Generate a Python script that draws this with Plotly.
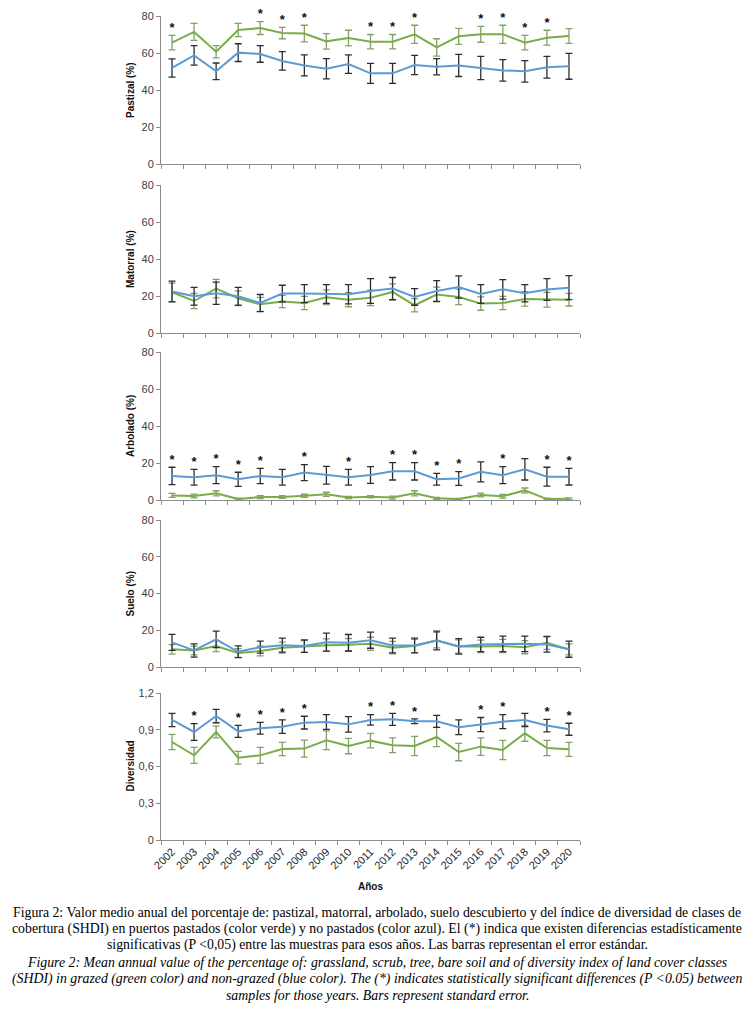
import plotly.graph_objects as go

years = [str(y) for y in range(2002, 2021)]

# Pastizal (%)
past_green = [65.6, 71.4, 60.7, 72.4, 73.5, 70.8, 70.5, 66.3, 68.1, 66.1, 66.1, 70.1, 63.0, 69.0, 70.1, 70.1, 65.6, 68.3, 69.2]
past_green_se = [3.9, 4.6, 3.3, 3.6, 3.5, 3.1, 4.5, 4.2, 4.2, 3.9, 3.9, 4.9, 4.7, 4.3, 4.3, 4.9, 3.9, 4.0, 4.0]
past_blue = [51.9, 58.7, 50.1, 60.2, 59.5, 55.7, 53.3, 51.5, 54.0, 49.0, 49.0, 53.5, 52.6, 53.3, 51.9, 50.6, 50.1, 52.3, 52.8]
past_blue_se = [4.9, 5.3, 4.5, 4.8, 4.5, 5.0, 5.7, 5.5, 5.0, 5.4, 5.4, 5.2, 4.4, 6.0, 6.3, 5.8, 5.8, 5.9, 7.0]
past_star = ["2002", "2006", "2007", "2008", "2011", "2012", "2013", "2016", "2017", "2018", "2019"]

# Matorral (%)
mat_green = [22.0, 17.3, 24.0, 18.8, 15.5, 17.0, 16.2, 19.3, 18.0, 19.0, 22.2, 15.0, 20.8, 19.5, 15.9, 16.2, 18.4, 18.0, 18.0]
mat_green_se = [5.0, 4.1, 5.0, 4.0, 3.8, 3.3, 3.6, 4.0, 3.8, 4.2, 4.4, 3.6, 4.0, 4.2, 3.6, 3.6, 3.9, 4.0, 3.4]
mat_blue = [22.4, 19.9, 21.5, 19.9, 16.2, 21.3, 21.3, 21.1, 20.9, 22.7, 24.0, 19.5, 22.7, 24.9, 21.1, 23.6, 21.5, 23.5, 24.5]
mat_blue_se = [5.6, 4.8, 6.0, 4.8, 4.6, 4.5, 4.9, 5.1, 5.2, 6.7, 6.0, 4.5, 5.6, 6.0, 5.1, 5.3, 4.7, 5.9, 6.5]

# Arbolado (%)
arb_green = [2.5, 2.2, 3.6, 0.5, 1.6, 1.6, 2.3, 3.1, 1.3, 1.8, 1.3, 3.6, 0.9, 0.5, 2.7, 2.0, 5.2, 0.5, 0.7]
arb_green_se = [1.1, 1.0, 1.4, 0.5, 0.8, 0.7, 0.8, 1.1, 0.6, 0.6, 0.8, 1.4, 0.5, 0.4, 1.0, 1.0, 1.3, 0.5, 0.5]
arb_blue = [13.0, 12.3, 13.4, 11.2, 13.0, 12.3, 14.8, 13.4, 12.3, 13.5, 15.5, 15.5, 11.2, 11.6, 15.2, 13.4, 16.6, 12.6, 12.6]
arb_blue_se = [4.7, 4.3, 4.6, 3.8, 4.1, 4.3, 4.3, 4.8, 4.3, 4.5, 4.7, 4.7, 3.2, 3.7, 5.4, 4.6, 5.8, 5.1, 4.5]
arb_star = ["2002", "2003", "2004", "2005", "2006", "2008", "2010", "2012", "2013", "2014", "2015", "2017", "2019", "2020"]

# Suelo (%)
sue_green = [9.6, 9.0, 11.4, 7.6, 8.7, 10.5, 11.2, 11.9, 12.1, 12.6, 10.5, 11.4, 14.6, 11.2, 11.2, 11.4, 10.8, 13.2, 9.6]
sue_green_se = [2.6, 2.4, 3.0, 2.4, 2.6, 3.0, 3.2, 3.4, 3.4, 3.6, 3.4, 3.6, 4.2, 3.6, 3.4, 3.6, 3.6, 3.6, 3.0]
sue_blue = [13.4, 9.0, 15.0, 8.3, 10.8, 11.9, 11.4, 13.5, 13.2, 14.6, 11.7, 11.7, 14.4, 11.2, 12.3, 12.6, 12.6, 12.3, 9.7]
sue_blue_se = [4.4, 3.6, 4.5, 3.2, 3.3, 3.8, 3.4, 4.9, 4.5, 4.4, 4.0, 4.0, 5.1, 4.2, 3.9, 4.2, 4.2, 4.2, 4.4]

# Diversidad
div_green = [0.800, 0.691, 0.882, 0.672, 0.691, 0.743, 0.746, 0.814, 0.767, 0.811, 0.773, 0.767, 0.841, 0.718, 0.762, 0.735, 0.871, 0.751, 0.740]
div_green_se = [0.063, 0.065, 0.048, 0.052, 0.065, 0.054, 0.070, 0.076, 0.063, 0.059, 0.060, 0.079, 0.079, 0.071, 0.071, 0.079, 0.065, 0.063, 0.057]
div_blue = [0.980, 0.882, 1.012, 0.887, 0.912, 0.925, 0.958, 0.963, 0.944, 0.980, 0.985, 0.969, 0.969, 0.920, 0.942, 0.966, 0.980, 0.934, 0.904]
div_blue_se = [0.054, 0.068, 0.055, 0.049, 0.048, 0.055, 0.052, 0.060, 0.063, 0.043, 0.049, 0.019, 0.049, 0.060, 0.058, 0.057, 0.054, 0.051, 0.049]
div_star = ["2003", "2005", "2006", "2007", "2008", "2011", "2012", "2013", "2016", "2017", "2019", "2020"]

panels = [
    ("Pastizal (%)", past_green, past_green_se, past_blue, past_blue_se, past_star, [0, 80], 20),
    ("Matorral (%)", mat_green, mat_green_se, mat_blue, mat_blue_se, [], [0, 80], 20),
    ("Arbolado (%)", arb_green, arb_green_se, arb_blue, arb_blue_se, arb_star, [0, 80], 20),
    ("Suelo (%)", sue_green, sue_green_se, sue_blue, sue_blue_se, [], [0, 80], 20),
    ("Diversidad", div_green, div_green_se, div_blue, div_blue_se, div_star, [0, 1.2], 0.3),
]

caption_lines = [
    ("Figura 2: Valor medio anual del porcentaje de: pastizal, matorral, arbolado, suelo descubierto y del índice de diversidad de clases de", False),
    ("cobertura (SHDI) en puertos pastados (color verde) y no pastados (color azul). El (*) indica que existen diferencias estadísticamente", False),
    ("significativas (P <0,05) entre las muestras para esos años. Las barras representan el error estándar.", False),
    ("Figure 2: Mean annual value of the percentage of: grassland, scrub, tree, bare soil and of diversity index of land cover classes", True),
    ("(SHDI) in grazed (green color) and non-grazed (blue color). The (*) indicates statistically significant differences (P <0.05) between", True),
    ("samples for those years. Bars represent standard error.", True),
]

W, H = 754, 1015
plot_left, plot_right = 161, 580
panel_px = [(16, 164), (185, 333), (352, 500), (520, 667), (693, 840)]
caption_y = [912, 929, 945, 962, 979, 995]

GREEN = "#78AD48"
BLUE = "#5B9BD5"
GREEN_ERR = "#83A066"
BLUE_ERR = "#2A2E33"
AXIS = "#8C8C8C"

fig = go.Figure()
layout = {}
annotations = []

for i, (title, g, gse, b, bse, stars, yr, dt) in enumerate(panels):
    n = i + 1
    xa = "x" if n == 1 else f"x{n}"
    ya = "y" if n == 1 else f"y{n}"

    fig.add_trace(go.Scatter(
        x=years, y=g, mode="lines", xaxis=xa, yaxis=ya,
        line=dict(color=GREEN, width=2),
        error_y=dict(type="data", array=gse, color=GREEN_ERR, thickness=1.3, width=3.5),
        showlegend=False, hoverinfo="skip"))
    fig.add_trace(go.Scatter(
        x=years, y=b, mode="lines", xaxis=xa, yaxis=ya,
        line=dict(color=BLUE, width=2),
        error_y=dict(type="data", array=bse, color=BLUE_ERR, thickness=1.3, width=3.5),
        showlegend=False, hoverinfo="skip"))

    # asterisks sit just above the highest error bar of each marked year
    if stars:
        sx, sy = [], []
        for yr_lbl in stars:
            k = years.index(yr_lbl)
            sx.append(yr_lbl)
            sy.append(max(g[k] + gse[k], b[k] + bse[k]))
        fig.add_trace(go.Scatter(
            x=sx, y=sy, mode="text", text=["<b>*</b>"] * len(sx), xaxis=xa, yaxis=ya,
            textposition="top center", cliponaxis=False,
            textfont=dict(family="Liberation Sans, Arial", size=13, color="#111111"),
            showlegend=False, hoverinfo="skip"))

    top, bot = panel_px[i]
    last = n == 5
    layout["xaxis" if n == 1 else f"xaxis{n}"] = dict(
        domain=[plot_left / W, plot_right / W], anchor=ya,
        type="category", range=[-0.5, len(years) - 0.5],
        showline=True, linecolor=AXIS, linewidth=1,
        ticks="outside", tickson="boundaries", ticklen=4, tickcolor=AXIS,
        showgrid=False, zeroline=False,
        showticklabels=last, tickangle=-45,
        tickfont=dict(family="Liberation Sans, Arial", size=11, color="#262626"),
    )
    layout["yaxis" if n == 1 else f"yaxis{n}"] = dict(
        domain=[1 - bot / H, 1 - top / H], anchor=xa,
        range=yr, dtick=dt, tick0=0,
        showline=True, linecolor=AXIS, linewidth=1,
        ticks="outside", ticklen=4, tickcolor=AXIS,
        showgrid=False, zeroline=False,
        tickfont=dict(family="Liberation Sans, Arial", size=11, color="#404040"),
    )
    annotations.append(dict(
        text=f"<b>{title}</b>", x=130 / W, y=1 - (top + bot) / 2 / H,
        xref="paper", yref="paper", textangle=-90, showarrow=False,
        xanchor="center", yanchor="middle",
        font=dict(family="Liberation Sans, Arial", size=10, color="#111111")))

annotations.append(dict(
    text="<b>Años</b>", x=(plot_left + plot_right) / 2 / W, y=1 - 886 / H,
    xref="paper", yref="paper", showarrow=False, xanchor="center", yanchor="middle",
    font=dict(family="Liberation Sans, Arial", size=10, color="#111111")))

for (line, ital), cy in zip(caption_lines, caption_y):
    annotations.append(dict(
        text=f"<i>{line}</i>" if ital else line, x=377 / W, y=1 - cy / H,
        xref="paper", yref="paper", showarrow=False,
        xanchor="center", yanchor="middle",
        font=dict(family="Liberation Serif, Times New Roman", size=13.8, color="#000000")))

fig.update_layout(
    width=W, height=H,
    margin=dict(l=0, r=0, t=0, b=0, autoexpand=False),
    paper_bgcolor="white", plot_bgcolor="white",
    separators=",.",
    annotations=annotations,
    **layout,
)

# drop the browser's default 8px body margin so the figure fills the window
fig.write_html("out.html", config={"displayModeBar": False},
               post_script="document.body.style.margin = '0';")
